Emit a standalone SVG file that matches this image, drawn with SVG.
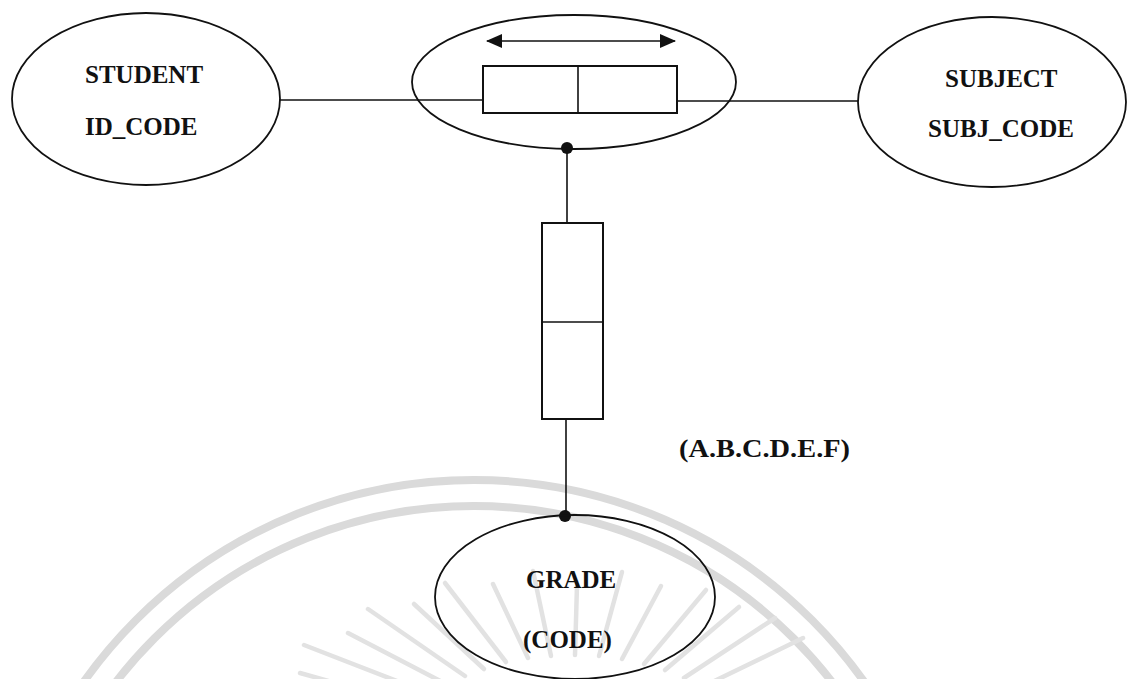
<svg xmlns="http://www.w3.org/2000/svg" width="1128" height="679" viewBox="0 0 1128 679">
  <style>
    .shape { fill: none; stroke: #111; stroke-width: 1.8; }
    .box { fill: #fff; stroke: #111; stroke-width: 2; }
    .wire { stroke: #111; stroke-width: 1.6; fill: none; }
    .label { font-family: "Liberation Serif", "Times New Roman", serif; font-weight: bold; font-size: 25px; fill: #111; }
    .seal { fill: none; stroke: #dadada; stroke-width: 8; }
    .ray { stroke: #e2e2e2; stroke-width: 4.5; stroke-linecap: round; }
  </style>
  <defs>
    <marker id="head" viewBox="0 0 16 14" refX="15" refY="7" markerWidth="16" markerHeight="14" markerUnits="userSpaceOnUse" orient="auto-start-reverse">
      <path d="M0,0 L16,7 L0,14 Z" fill="#111"/>
    </marker>
  </defs>

  <rect width="1128" height="679" fill="#fff"/>

  <!-- faint seal in the background -->
  <g id="seal">
    <circle class="seal" cx="474" cy="958" r="478"/>
    <circle class="seal" cx="474" cy="958" r="452"/>
    <g class="ray">
      <line x1="700" y1="688" x2="803" y2="638"/>
      <line x1="684" y1="678" x2="775" y2="618"/>
      <line x1="665" y1="670" x2="739" y2="607"/>
      <line x1="644" y1="664" x2="706" y2="590"/>
      <line x1="622" y1="659" x2="661" y2="586"/>
      <line x1="599" y1="656" x2="622" y2="572"/>
      <line x1="575" y1="655" x2="577" y2="585"/>
      <line x1="551" y1="656" x2="533" y2="571"/>
      <line x1="528" y1="658" x2="493" y2="584"/>
      <line x1="506" y1="662" x2="445" y2="583"/>
      <line x1="484" y1="669" x2="414" y2="604"/>
      <line x1="465" y1="676" x2="368" y2="609"/>
      <line x1="448" y1="685" x2="348" y2="633"/>
      <line x1="433" y1="695" x2="304" y2="645"/>
      <line x1="421" y1="707" x2="300" y2="673"/>
    </g>
  </g>

  <!-- connectors -->
  <g id="connectors">
    <line class="wire" x1="279" y1="100" x2="483" y2="100"/>
    <line class="wire" x1="677" y1="101" x2="858" y2="101"/>
    <line class="wire" x1="567" y1="148" x2="567" y2="223"/>
    <line class="wire" x1="566" y1="419" x2="566" y2="516"/>
    <circle cx="567" cy="148" r="6" fill="#111"/>
    <circle cx="565" cy="516" r="6" fill="#111"/>
  </g>

  <g id="student">
    <ellipse class="shape" cx="146" cy="99" rx="134" ry="86"/>
    <text class="label" x="85" y="83">STUDENT</text>
    <text class="label" x="85" y="135">ID_CODE</text>
  </g>

  <g id="enrolment">
    <ellipse class="shape" cx="574" cy="82" rx="162" ry="67"/>
    <line class="wire" x1="487" y1="41" x2="675" y2="41" marker-start="url(#head)" marker-end="url(#head)"/>
    <rect class="box" x="483" y="66" width="194" height="47"/>
    <line class="wire" x1="578" y1="66" x2="578" y2="113" stroke-width="2"/>
  </g>

  <g id="subject">
    <ellipse class="shape" cx="992" cy="102" rx="134" ry="85"/>
    <text class="label" x="945" y="87">SUBJECT</text>
    <text class="label" x="928" y="137">SUBJ_CODE</text>
  </g>

  <g id="grade-link">
    <rect class="box" x="542" y="223" width="61" height="196"/>
    <line class="wire" x1="542" y1="322" x2="603" y2="322" stroke-width="2"/>
  </g>

  <g id="grade-values">
    <text class="label" x="679" y="457" font-size="27" textLength="171" lengthAdjust="spacingAndGlyphs">(A.B.C.D.E.F)</text>
  </g>

  <g id="grade">
    <ellipse class="shape" cx="575" cy="597" rx="140" ry="82"/>
    <text class="label" x="526" y="588">GRADE</text>
    <text class="label" x="523" y="648">(CODE)</text>
  </g>
</svg>
